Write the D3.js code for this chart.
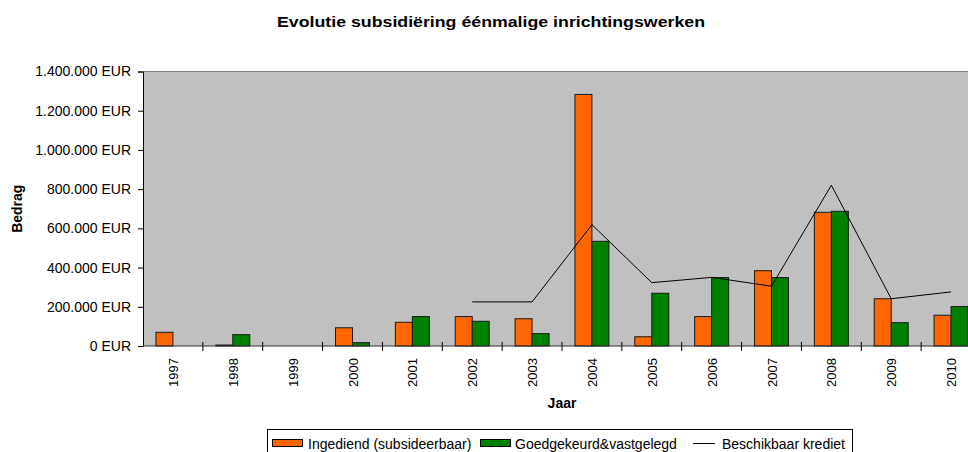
<!DOCTYPE html>
<html>
<head>
<meta charset="utf-8">
<script src="https://cdn.jsdelivr.net/npm/d3@7"></script>
<style>
body{margin:0;background:#fff;}
svg{display:block;font-family:"Liberation Sans",Arial,sans-serif;}
</style>
</head>
<body>
<div id="chart"></div>
<script>
// data
var years = ["1997","1998","1999","2000","2001","2002","2003","2004","2005","2006","2007","2008","2009","2010"];
var ingediend = [70000,5000,0,93000,121000,150000,139000,1283000,47000,150000,384000,682000,241000,157000];
var goedgekeurd = [0,58000,0,17000,150000,126000,63000,534000,269000,349000,349000,687000,119000,201000];
var krediet = [null,null,null,null,null,225000,225000,619000,323000,350000,305000,820000,241000,276000];
var yTicks = [0,200000,400000,600000,800000,1000000,1200000,1400000];

var series = ["Ingediend (subsideerbaar)","Goedgekeurd&vastgelegd"];
var colors = ["#FF6600","#008000"];

var W = 968, H = 452;
var pL = 143, pR = 981, pT = 71.5, pB = 346;

var svg = d3.select("#chart").append("svg")
	.attr("width",W).attr("height",H)
	.attr("viewBox","0 0 "+W+" "+H);

var locale = d3.formatLocale({decimal:",",thousands:".",grouping:[3],currency:[""," EUR"]});
var fmt = locale.format("$,.0f");

var X = d3.scaleBand().domain(years).range([pL,pR]);
var X1 = d3.scaleBand().domain(series).range([X.step()*0.216,X.step()*0.784]);
var Y = d3.scaleLinear().domain([0,1400000]).range([pB,pT]);

// plot area
svg.append("rect")
	.attr("x",pL).attr("y",pT)
	.attr("width",pR-pL).attr("height",pB-pT)
	.style("fill","#C0C0C0");
svg.append("line")
	.attr("x1",pL).attr("x2",pR).attr("y1",pT).attr("y2",pT)
	.style("stroke","#808080").style("stroke-width",1);

// bars
var rows = years.map(function(y,i){return {year:y,vals:[ingediend[i],goedgekeurd[i]]}});
var g = svg.selectAll(".grp").data(rows).enter().append("g")
	.attr("transform",d=>"translate("+X(d.year)+",0)");
g.selectAll("rect").data(d=>d.vals.map((v,j)=>({s:series[j],v:v,c:colors[j]})))
	.enter().append("rect")
	.filter(d=>d.v>0)
	.attr("x",d=>X1(d.s))
	.attr("y",d=>Y(d.v))
	.attr("width",X1.bandwidth())
	.attr("height",d=>pB-Y(d.v))
	.style("fill",d=>d.c)
	.style("stroke","#1a1a1a")
	.style("stroke-width",1);

// line
var line = d3.line()
	.defined(d=>d.v!=null)
	.x(d=>X(d.year)+X.bandwidth()/2)
	.y(d=>Y(d.v));
svg.append("path")
	.datum(years.map((y,i)=>({year:y,v:krediet[i]})))
	.attr("d",line)
	.style("fill","none").style("stroke","#000").style("stroke-width",1);

// y axis
var yAxis = d3.axisLeft(Y).tickValues(yTicks).tickFormat(fmt).tickSize(5).tickPadding(7);
var ya = svg.append("g").attr("transform","translate("+pL+",0)").call(yAxis);
ya.select(".domain").style("stroke","#000");
ya.selectAll("text").style("font-size","14px").style("fill","#000").style("font-family","'Liberation Sans',Arial,sans-serif");

// x axis
var xa = svg.append("g").attr("transform","translate(0,"+pB+")");
xa.append("line").attr("x1",pL).attr("x2",pR).style("stroke","#333");
xa.selectAll(".tk").data(years.slice(1)).enter().append("line")
	.attr("x1",d=>X(d)).attr("x2",d=>X(d))
	.attr("y1",-4).attr("y2",5)
	.style("stroke","#000");
xa.selectAll(".lbl").data(years).enter().append("text")
	.attr("transform",d=>"translate("+(X(d)+X.bandwidth()/2+5)+",12) rotate(-90)")
	.style("text-anchor","end")
	.style("font-size","13px")
	.text(d=>d);

// titles
svg.append("text").attr("x",277).attr("y",27)
	.attr("textLength",428).attr("lengthAdjust","spacingAndGlyphs")
	.style("font-weight","bold").style("font-size","15.5px")
	.text("Evolutie subsidiëring éénmalige inrichtingswerken");
svg.append("text").attr("transform","translate(22,"+((pT+pB)/2)+") rotate(-90)")
	.style("text-anchor","middle").style("font-weight","bold").style("font-size","14px")
	.text("Bedrag");
svg.append("text").attr("x",562).attr("y",408)
	.style("text-anchor","middle").style("font-weight","bold").style("font-size","14px")
	.text("Jaar");

// legend
var lg = svg.append("g");
lg.append("rect").attr("x",267.5).attr("y",429.5).attr("width",585).attr("height",24)
	.style("fill","#fff").style("stroke","#000");
var items = [
	{t:series[0],c:colors[0],x:272.5,tx:308,type:"bar"},
	{t:series[1],c:colors[1],x:480.5,tx:515,type:"bar"},
	{t:"Beschikbaar krediet",c:"#000",x:693,tx:722,type:"line"}
];
items.forEach(function(d){
	if(d.type=="bar"){
		lg.append("rect").attr("x",d.x).attr("y",439.5).attr("width",30).attr("height",7)
			.style("fill",d.c).style("stroke","#000");
	} else {
		lg.append("line").attr("x1",d.x).attr("x2",d.x+22).attr("y1",443.5).attr("y2",443.5)
			.style("stroke","#000");
	}
	lg.append("text").attr("x",d.tx).attr("y",448.5)
		.style("font-size","14px").text(d.t);
});
</script>
</body>
</html>
